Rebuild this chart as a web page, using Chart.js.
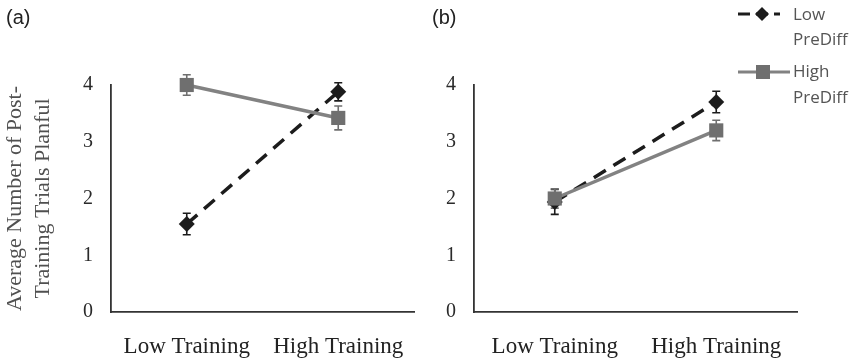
<!DOCTYPE html>
<html>
<head>
<meta charset="utf-8">
<script src="https://cdn.jsdelivr.net/npm/chart.js@4/dist/chart.umd.min.js"></script>
<style>
  body { margin: 0; background: #fff; }
  #wrap { position: relative; width: 849px; height: 360px; overflow: hidden; }
  .panel { position: absolute; top: 0; }
  .tag { position: absolute; top: 6px; font: 20px "Liberation Sans", Arial, sans-serif; color: #222; }
</style>
</head>
<body>
<div id="wrap">
  <canvas id="chartA" class="panel" width="424" height="360" style="left:0"></canvas>
  <canvas id="chartB" class="panel" width="429" height="360" style="left:420px"></canvas>
  <div class="tag" style="left:6px">(a)</div>
  <div class="tag" style="left:432px">(b)</div>
</div>
<script>
// ── Data ───────────────────────────────────────────────
const categories = ["Low Training", "High Training"];
const yTicks = [0, 1, 2, 3, 4];
const seriesNames = ["Low PreDiff", "High PreDiff"];

// panel (a)
const lowA = [1.55, 3.88];
const lowAErr = [0.19, 0.16];
const highA = [4.0, 3.42];
const highAErr = [0.18, 0.21];

// panel (b)
const lowB = [1.94, 3.7];
const lowBErr = [0.22, 0.19];
const highB = [2.0, 3.2];
const highBErr = [0.17, 0.18];

const LOW_COLOR = "#1c1c1c";
const HIGH_LINE = "#828282";
const HIGH_POINT = "#6f6f6f";
const AXIS_COLOR = "#333";
const SERIF = "'Liberation Serif', 'Times New Roman', serif";

// ── Error bars plugin ──────────────────────────────────
const errorBars = {
  id: "errorBars",
  beforeDatasetsDraw(chart) {
    const { ctx, scales: { x, y } } = chart;
    ctx.save();
    chart.data.datasets.forEach((ds) => {
      ctx.strokeStyle = ds.pointBackgroundColor;
      ctx.lineWidth = 1.6;
      ds.data.forEach((v, i) => {
        const e = ds.errors[i];
        const px = x.getPixelForValue(i);
        const t = y.getPixelForValue(v + e);
        const b = y.getPixelForValue(v - e);
        ctx.beginPath();
        ctx.moveTo(px, t); ctx.lineTo(px, b);
        ctx.moveTo(px - 4, t); ctx.lineTo(px + 4, t);
        ctx.moveTo(px - 4, b); ctx.lineTo(px + 4, b);
        ctx.stroke();
      });
    });
    ctx.restore();
  },
};

// ── Legend (drawn on panel b) ──────────────────────────
const sideLegend = {
  id: "sideLegend",
  afterDraw(chart) {
    const ctx = chart.ctx;
    ctx.save();
    // Low PreDiff
    ctx.strokeStyle = LOW_COLOR;
    ctx.lineWidth = 3;
    ctx.setLineDash([12, 6]);
    ctx.beginPath(); ctx.moveTo(318, 14); ctx.lineTo(360, 14); ctx.stroke();
    ctx.setLineDash([]);
    ctx.fillStyle = LOW_COLOR;
    ctx.beginPath();
    ctx.moveTo(342, 7); ctx.lineTo(349, 14); ctx.lineTo(342, 21); ctx.lineTo(335, 14);
    ctx.closePath(); ctx.fill();
    // High PreDiff
    ctx.strokeStyle = HIGH_LINE;
    ctx.beginPath(); ctx.moveTo(318, 72); ctx.lineTo(370, 72); ctx.stroke();
    ctx.fillStyle = HIGH_POINT;
    ctx.fillRect(336, 65, 14, 14);
    // labels
    ctx.fillStyle = "#555";
    ctx.font = "17px 'Open Sans', sans-serif";
    ctx.textBaseline = "middle";
    ctx.fillText("Low", 373, 15);
    ctx.fillText("PreDiff", 373, 40);
    ctx.fillText("High", 373, 72);
    ctx.fillText("PreDiff", 373, 98);
    ctx.restore();
  },
};

function makeDatasets(low, lowErr, high, highErr) {
  return [
    {
      label: seriesNames[0],
      data: low,
      errors: lowErr,
      borderColor: LOW_COLOR,
      borderWidth: 3.5,
      borderDash: [14, 9],
      pointStyle: "rectRot",
      pointRadius: 8,
      pointBackgroundColor: LOW_COLOR,
      pointBorderWidth: 0,
      order: 1,
      clip: false,
    },
    {
      label: seriesNames[1],
      data: high,
      errors: highErr,
      borderColor: HIGH_LINE,
      borderWidth: 3.5,
      pointStyle: "rect",
      pointRadius: 10,
      pointBackgroundColor: HIGH_POINT,
      pointBorderWidth: 0,
      order: 0,
      clip: false,
    },
  ];
}

function makeOptions(yWidth, padRight, withTitle) {
  return {
    responsive: false,
    animation: false,
    layout: { padding: { top: 85, right: padRight, left: 0, bottom: 0 } },
    plugins: { legend: { display: false }, tooltip: { enabled: false } },
    scales: {
      x: {
        offset: true,
        // invisible tick marks give the label gap without widening the axis
        grid: { display: true, drawOnChartArea: false, drawTicks: true, tickLength: 21, color: "rgba(0,0,0,0)" },
        border: { display: true, color: AXIS_COLOR, width: 1.8 },
        ticks: { color: "#222", font: { family: SERIF, size: 23 }, padding: 0, maxRotation: 0 },
        afterFit: (s) => { s.height = 48; },
      },
      y: {
        min: 0,
        max: 4,
        grid: { display: false, drawTicks: false },
        border: { display: true, color: AXIS_COLOR, width: 1.8 },
        afterBuildTicks: (s) => { s.ticks = yTicks.map((v) => ({ value: v })); },
        ticks: { color: "#2a2a2a", font: { family: SERIF, size: 20 }, padding: 18 },
        title: {
          display: withTitle,
          text: ["Average Number of Post-", "Training Trials Planful"],
          color: "#505050",
          font: { family: SERIF, size: 22, lineHeight: 1.27 },
          padding: { top: 1, bottom: 0 },
        },
        afterFit: (s) => { s.width = yWidth; },
      },
    },
  };
}

new Chart(document.getElementById("chartA"), {
  type: "line",
  data: { labels: categories, datasets: makeDatasets(lowA, lowAErr, highA, highAErr) },
  options: makeOptions(111, 5, true),
  plugins: [errorBars],
});

new Chart(document.getElementById("chartB"), {
  type: "line",
  data: { labels: categories, datasets: makeDatasets(lowB, lowBErr, highB, highBErr) },
  options: makeOptions(54, 52, false),
  plugins: [errorBars, sideLegend],
});
</script>
</body>
</html>
